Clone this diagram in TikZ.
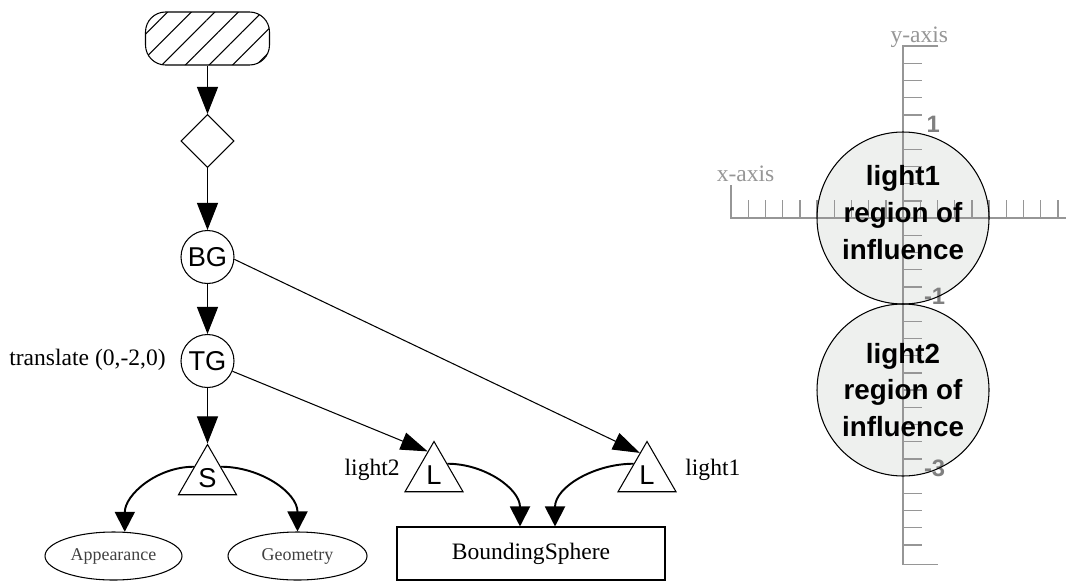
\documentclass[tikz,border=0pt]{standalone}
\usepackage{fontspec}
\setmainfont{Liberation Serif}
\newfontfamily\arialfont{Liberation Sans}
\usetikzlibrary{arrows.meta,shapes.geometric,patterns.meta}
\definecolor{axisgray}{RGB}{150,150,150}
\definecolor{numgray}{RGB}{128,128,128}
\definecolor{regionfill}{RGB}{238,240,238}

\begin{document}
\begin{tikzpicture}[line width=0.6pt,
    sgnode/.style={draw, circle, minimum size=1.06cm, inner sep=0pt,
      font=\arialfont\fontsize{15.5}{16}\selectfont},
    leaf/.style={draw, regular polygon, regular polygon sides=3,
      minimum size=1.34cm, inner sep=0pt, font=\arialfont\fontsize{15.5}{16}\selectfont},
    comp/.style={draw, ellipse, minimum height=0.96cm, inner sep=0pt,
      font=\fontsize{10.2}{12}\selectfont, text=black!75},
    lbl/.style={font=\fontsize{13.4}{16}\selectfont},
    big/.style={-{Triangle[length=0.54cm,width=0.42cm]}},
    ref/.style={-{Triangle[length=0.54cm,width=0.36cm]}},
    bentarrow/.style={-{Triangle[length=0.4cm,width=0.4cm]}, line width=1.1pt},
    axis/.style={draw=axisgray, line width=1pt},
    tickline/.style={draw=axisgray, line width=0.8pt},
    axislbl/.style={text=axisgray, font=\fontsize{13.4}{16}\selectfont},
    num/.style={text=numgray, font=\arialfont\bfseries\fontsize{13.5}{14}\selectfont}]
  \useasboundingbox (0,0) rectangle (21.34,11.62);

  % virtual universe (hatched) and locale
  \node[draw, rounded corners=0.4cm, minimum width=2.48cm, minimum height=1.06cm,
    pattern={Lines[angle=45,distance=9.5pt,line width=0.6pt]}] (universe) at (4.15,10.85) {};
  \node[draw, diamond, minimum width=1.06cm, minimum height=1.06cm, inner sep=0pt] (locale) at (4.15,8.80) {};
  % branch group and transform group
  \node[sgnode] (bg) at (4.15,6.48) {BG};
  \node[sgnode] (tg) at (4.15,4.40) {TG};
  \node[lbl, anchor=base east] (tglabel) at (3.44,4.32) {translate (0,-2,0)};
  % shape with its components
  \node[leaf] (shape) at (4.15,2.06) {S};
  \node[comp, minimum width=2.74cm] (appear) at (2.27,0.50) {Appearance};
  \node[comp, minimum width=2.78cm] (geom) at (5.95,0.50) {Geometry};
  % the two lights and their bounds
  \node[leaf] (light2) at (8.68,2.12) {L};
  \node[leaf] (light1) at (12.94,2.12) {L};
  \node[lbl, anchor=base east] (l2label) at (8.12,2.12) {light2};
  \node[lbl, anchor=base west] (l1label) at (13.58,2.12) {light1};
  \node[draw, minimum width=5.36cm, minimum height=1.06cm, lbl] (bounds) at (10.62,0.55) {BoundingSphere};

  % arrows of the tree
  \draw[big] (universe) -- (locale);
  \draw[big] (locale) -- (bg);
  \draw[big] (bg) -- (tg);
  \draw[big] (tg) -- (shape.corner 1);
  \draw[ref] (tg) -- (light2.105);
  \draw[ref] (bg.-5) -- (light1.108);
  % references to node components
  \draw[bentarrow] (shape.140) to[out=180,in=90] (appear.65);
  \draw[bentarrow] (shape.40) to[out=0,in=90] (geom.north);
  \draw[bentarrow] (light2.40) to[out=0,in=90] ([xshift=-0.22cm]bounds.north);
  \draw[bentarrow] (light1.140) to[out=180,in=90] ([xshift=0.48cm]bounds.north);

  % axes with the regions of influence
  \begin{scope}[shift={(18.06,7.26)}, x=1.72cm, y=1.72cm]
    \fill[regionfill] (0,0) circle[radius=1.72cm];
    \fill[regionfill] (0,-2) circle[radius=1.72cm];
    % y-axis
    \draw[axis] (0.41,2) -- (0,2) -- (0,-4.03) -- (0.41,-4.03);
    \foreach \k in {-19,...,9}{
      \ifnum\k=0\else\ifnum\k=5\else\ifnum\k=-5\else\ifnum\k=-15\else
        \draw[tickline] (0,{\k*0.2}) -- ++(0.38cm,0);
      \fi\fi\fi\fi}
    % x-axis
    \draw[axis] (-2,0.38) -- (-2,0) -- (1.9,0);
    \foreach \k in {-9,...,9}{
      \ifnum\k=0\else
        \draw[tickline] ({\k*0.2},0) -- ++(0,0.36cm);
      \fi}
    \node[axislbl, anchor=base] (ylabel) at (0.19,2.04) {y-axis};
    \node[axislbl, anchor=base] (xlabel) at (-1.83,0.42) {x-axis};
    \node[num, anchor=base west] (one) at (0.2,1) {1};
    \node[num, anchor=base west] (minusone) at (0.17,-1.01) {-1};
    \node[num, anchor=base west] (minusthree) at (0.17,-3.01) {-3};
    % outlines and captions of the regions
    \draw (0,0) circle[radius=1.72cm];
    \draw (0,-2) circle[radius=1.72cm];
    \node[align=center, font=\arialfont\bfseries\fontsize{15.8}{21}\selectfont] (region1) at (0,0.06) {light1\\region of\\influence};
    \node[align=center, font=\arialfont\bfseries\fontsize{15.8}{21}\selectfont] (region2) at (0,-2) {light2\\region of\\influence};
  \end{scope}
\end{tikzpicture}
\end{document}
